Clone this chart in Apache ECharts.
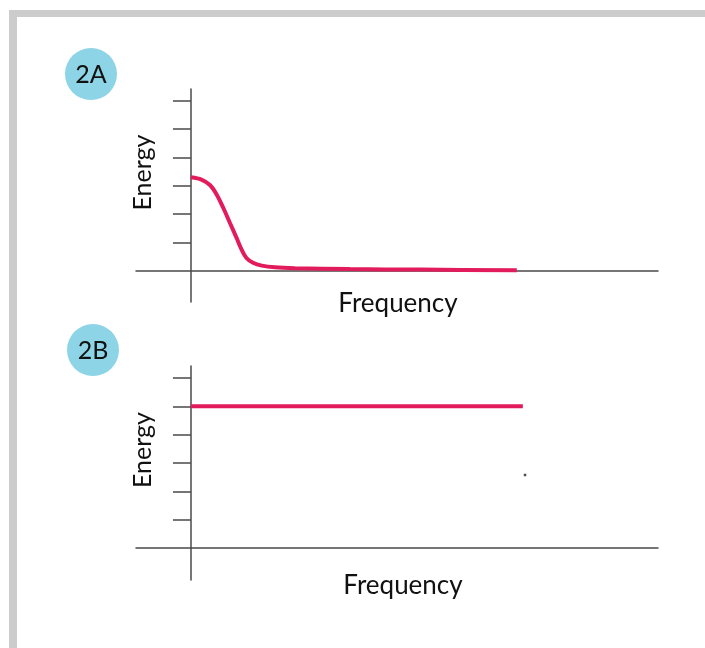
<!DOCTYPE html>
<html>
<head>
<meta charset="utf-8">
<script src="https://cdn.jsdelivr.net/npm/echarts@6/dist/echarts.min.js"></script>
<style>
  html, body { margin: 0; padding: 0; background: #ffffff; }
  #chart { width: 705px; height: 648px; }
</style>
</head>
<body>
<div id="chart"></div>
<script>
// ---- data ----
var panelLabels = ['2A', '2B'];
var xAxisName = 'Frequency';
var yAxisName = 'Energy';
var yTickValues = [1, 2, 3, 4, 5, 6];

// Panel 2A: energy falls off with frequency
var freqA   = [0,    0.19, 0.35, 0.47, 0.59, 0.71, 0.83, 0.92, 1.01, 1.13, 1.29, 1.53, 1.89, 2.89, 4.17, 5.93];
var energyA = [3.30, 3.22, 3.02, 2.69, 2.22, 1.69, 1.17, 0.76, 0.46, 0.29, 0.19, 0.13, 0.10, 0.07, 0.05, 0.03];

// Panel 2B: constant energy across frequency
var freqB   = [0, 6.04];
var energyB = [5, 5];

// stray dot in panel 2B
var dotB = [[6.08, 2.58]];

var RED = '#e21b5c';
var AXIS = '#4a4a4a';
var FONT = 'Lato, "Open Sans", sans-serif';

function pairs(xs, ys) { return xs.map(function (x, i) { return [x, ys[i]]; }); }

function xAx(idx, gap, padLeft) {
  return {
    type: 'value', gridIndex: idx, min: -1, max: 8.5,
    axisLine: { show: true, onZero: true, lineStyle: { color: AXIS, width: 1.5 } },
    axisTick: { show: false }, axisLabel: { show: false }, splitLine: { show: false },
    name: xAxisName, nameLocation: 'middle', nameGap: gap,
    nameTextStyle: { fontFamily: FONT, fontSize: 26, color: '#111', padding: [0, 0, 0, padLeft] }
  };
}
function yAx(idx, min, max) {
  return {
    type: 'value', gridIndex: idx, min: min, max: max,
    axisLine: { show: true, onZero: true, lineStyle: { color: AXIS, width: 1.5 } },
    axisTick: { show: true, inside: false, length: 18, customValues: yTickValues,
                lineStyle: { color: AXIS, width: 1.5 } },
    axisLabel: { show: false }, splitLine: { show: false },
    name: yAxisName, nameLocation: 'middle', nameRotate: 90, nameGap: -19,
    nameTextStyle: { fontFamily: FONT, fontSize: 25, color: '#111', padding: [0, 0, 0, 46] }
  };
}

function badge(cx, cy, text) {
  return {
    type: 'group', x: cx, y: cy,
    children: [
      { type: 'circle', shape: { cx: 0, cy: 0, r: 26 }, style: { fill: '#8dd4e6' } },
      { type: 'text', x: 0, y: 1, style: { text: text, fontFamily: FONT, fontSize: 25,
        fill: '#111', textAlign: 'center', textVerticalAlign: 'middle' } }
    ]
  };
}

var chart = echarts.init(document.getElementById('chart'), null, { renderer: 'canvas' });
chart.setOption({
  backgroundColor: '#ffffff',
  animation: false,
  graphic: [
    { type: 'rect', shape: { x: 9, y: 10, width: 696, height: 7 }, style: { fill: '#cccccc' } },
    { type: 'rect', shape: { x: 9, y: 10, width: 8, height: 638 }, style: { fill: '#cccccc' } },
    badge(91, 74, panelLabels[0]),
    badge(93, 350, panelLabels[1])
  ],
  grid: [
    { left: 136, right: 47, top: 89, height: 213 },
    { left: 136, right: 47, top: 366, height: 214 }
  ],
  xAxis: [xAx(0, -11, 2), xAx(1, -7, 12)],
  yAxis: [yAx(0, -1.09, 6.41), yAx(1, -1.12, 6.42)],
  series: [
    { type: 'line', xAxisIndex: 0, yAxisIndex: 0, data: pairs(freqA, energyA),
      smooth: 0.3, showSymbol: false,
      lineStyle: { color: RED, width: 4, cap: 'butt' } },
    { type: 'line', xAxisIndex: 1, yAxisIndex: 1, data: pairs(freqB, energyB),
      showSymbol: false, lineStyle: { color: RED, width: 4, cap: 'butt' } },
    { type: 'scatter', xAxisIndex: 1, yAxisIndex: 1, data: dotB,
      symbol: 'rect', symbolSize: 2.5, itemStyle: { color: '#222' } }
  ]
});
</script>
</body>
</html>
